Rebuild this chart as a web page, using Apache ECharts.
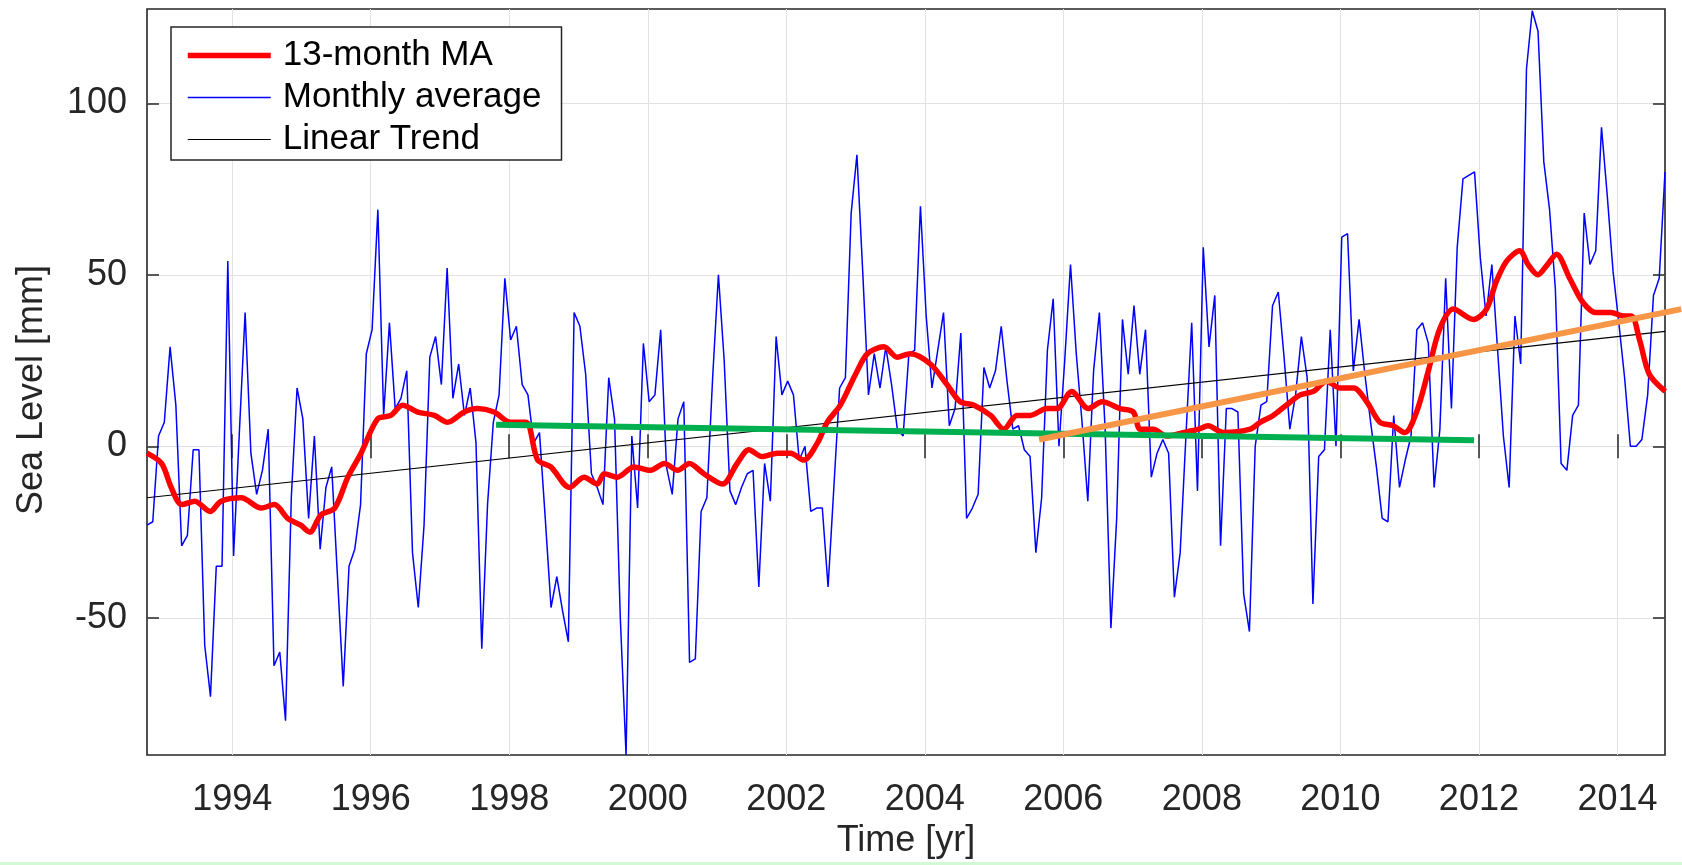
<!DOCTYPE html>
<html>
<head>
<meta charset="utf-8">
<script src="https://cdn.jsdelivr.net/npm/echarts@6/dist/echarts.min.js"></script>
<style>
html,body{margin:0;padding:0;background:#fff;}
#c{width:1682px;height:865px;}
</style>
</head>
<body>
<div id="c"></div>
<script>
// ---- data ----
const startYear = 1992.77;           // first monthly sample (decimal year)
const monthlyValues = [
 -23,-22,3,7,29,12,-29,-26,-1,-1,-58,-73,-35,-35,54,-32,4,39,-2,-14,
 -7,5,-64,-60,-80,-15,17,8,-21,3,-30,-12,-6,-38,-70,-35,-30,-17,27,34,
 69,9,36,11,14,22,-31,-47,-23,26,32,18,52,14,24,9,17,1,-59,-17,
 7,15,49,31,35,18,15,1,4,-21,-47,-38,-48,-57,39,35,21,-8,-12,-17,
 20,8,-50,-90,3,-18,30,13,15,34,-6,-14,8,13,-63,-62,-19,-15,20,50,
 25,-13,-17,-12,-8,-7,-41,-5,-16,32,15,19,15,-4,0,-19,-18,-18,-41,-12,
 17,20,68,85,51,15,27,17,29,18,5,3,27,28,70,38,17,28,39,6,
 11,33,-21,-18,-14,23,17,22,35,19,5,6,-1,-3,-31,-15,28,43,0,25,
 53,27,7,-16,22,39,5,-53,-21,37,21,41,21,34,-9,-2,2,-2,-44,-31,
 3,36,-13,58,29,44,-29,11,11,10,-43,-54,0,12,13,41,45,26,5,15,
 32,20,-46,-3,-1,34,0,61,62,22,37,21,7,-6,-21,-22,9,-12,-4,3,
 34,36,30,-12,5,49,11,58,78,79,80,55,38,53,28,3,-12,38,24,110,
 127,121,83,69,46,-5,-7,9,12,68,53,57,93,73,51,36,20,0,0,2,
 15,44,49,80
];
const maYears = [
 1992.77,1992.98,1993.12,1993.27,1993.46,1993.68,1993.84,1994.13,1994.42,1994.61,
 1994.80,1994.99,1995.12,1995.28,1995.48,1995.67,1995.86,1996.10,1996.29,1996.46,
 1996.68,1996.92,1997.11,1997.35,1997.54,1997.78,1998.02,1998.24,1998.41,1998.60,
 1998.87,1999.08,1999.27,1999.37,1999.56,1999.80,2000.04,2000.24,2000.43,2000.60,
 2000.81,2001.08,2001.29,2001.46,2001.65,2001.87,2002.06,2002.25,2002.45,2002.59,
 2002.78,2003.00,2003.17,2003.41,2003.60,2003.79,2004.08,2004.32,2004.51,2004.71,
 2004.95,2005.14,2005.33,2005.52,2005.76,2005.91,2006.12,2006.36,2006.56,2006.82,
 2007.01,2007.11,2007.30,2007.49,2007.73,2007.95,2008.09,2008.31,2008.70,2008.84,
 2009.03,2009.22,2009.42,2009.61,2009.80,2009.99,2010.19,2010.38,2010.57,2010.76,
 2010.93,2011.10,2011.27,2011.43,2011.63,2011.92,2012.11,2012.25,2012.40,2012.59,
 2012.71,2012.85,2012.99,2013.12,2013.31,2013.50,2013.69,2013.91,2014.08,2014.20,
 2014.32,2014.46,2014.69
];
const maValues = [
 -2,-5,-12,-17,-16,-19,-16,-15,-18,-17,
 -21,-23,-25,-20,-18,-9,-2,8,9,12,
 10,9,7,10,11,10,7,7,-4,-6,
 -12,-9,-11,-8,-9,-6,-7,-5,-7,-5,
 -8,-11,-5,-1,-3,-2,-2,-4,1,7,
 12,21,27,29,26,27,24,18,13,12,
 9,5,9,9,11,11,16,11,13,11,
 10,5,5,3,4,5,6,4,5,7,
 9,12,15,16,19,17,17,13,7,6,
 4,10,22,34,40,37,40,48,54,57,
 53,50,53,56,49,42,39,39,38,38,
 31,21,16
];
const trendYears = [1992.77, 2014.69];
const trendValues = [-15, 33.5];
const greenYears = [1997.81, 2011.93];
const greenValues = [6.3, 1.8];
const orangeYears = [2005.65, 2014.92];
const orangeValues = [2, 40];
const xTicks = [1994,1996,1998,2000,2002,2004,2006,2008,2010,2012,2014];
const yTicks = [-50, 0, 50, 100];
const seriesNames = ['13-month MA', 'Monthly average', 'Linear Trend'];

// ---- build chart ----
const W = 1682, GL = 147, GR = 17;
const xMin = startYear;
const xMax = startYear + (monthlyValues.length - 1) / 12;
// second (invisible) grid reaching the right edge of the picture, same scale
const xMaxWide = xMin + (xMax - xMin) * (W - GL) / (W - GL - GR);
const yMin = -90, yMax = 127.5;
const pairs = (xs, ys) => xs.map((x, i) => [x, ys[i]]);
const monthlyData = monthlyValues.map((v, i) => [startYear + i / 12, v]);

const FONT = 'Liberation Sans, Arial, Helvetica, sans-serif';
const AX = '#262626';
const tickStyle = {color: AX, width: 1.5};

const chart = echarts.init(document.getElementById('c'), null, {renderer: 'canvas'});
chart.setOption({
  animation: false,
  backgroundColor: '#fff',
  grid: [
    {left: GL, right: GR, top: 9, bottom: 110, show: true, borderColor: AX, borderWidth: 1.6, backgroundColor: 'transparent'},
    {left: GL, right: 0, top: 9, bottom: 110, show: false}
  ],
  legend: {
    data: seriesNames, orient: 'vertical', left: 171, top: 27,
    itemWidth: 83, itemHeight: 14, itemGap: 7, selectedMode: false,
    padding: [11, 20, 3, 14],
    borderColor: AX, borderWidth: 1.5, backgroundColor: '#fff',
    itemStyle: {opacity: 0},
    lineStyle: {width: 'inherit'},
    textStyle: {fontSize: 35, fontFamily: FONT, color: '#000', padding: [0, 0, 0, 7]}
  },
  xAxis: [{
    type: 'value', gridIndex: 0, position: 'bottom', min: xMin, max: xMax,
    axisLine: {show: false},
    axisTick: {show: true, inside: true, length: 12, customValues: xTicks, lineStyle: tickStyle},
    axisLabel: {show: true, customValues: xTicks, margin: 27, fontSize: 36, fontFamily: FONT, color: AX, formatter: v => String(Math.round(v))},
    splitLine: {show: true, lineStyle: {color: '#e2e2e2', width: 1}},
    name: 'Time [yr]', nameLocation: 'middle', nameGap: 62,
    nameTextStyle: {fontSize: 36, fontFamily: FONT, color: AX}
  }, {
    type: 'value', gridIndex: 0, position: 'top', min: xMin, max: xMax,
    axisLine: {show: false},
    axisTick: {show: true, inside: true, length: 12, customValues: xTicks, lineStyle: tickStyle},
    axisLabel: {show: false}, splitLine: {show: false}
  }, {
    type: 'value', gridIndex: 1, min: xMin, max: xMaxWide, show: false
  }],
  yAxis: [{
    type: 'value', gridIndex: 0, position: 'left', min: yMin, max: yMax,
    axisLine: {show: false},
    axisTick: {show: true, inside: true, length: 12, customValues: yTicks, lineStyle: tickStyle},
    axisLabel: {show: true, customValues: yTicks, margin: 20, fontSize: 36, fontFamily: FONT, color: AX, formatter: v => String(Math.round(v))},
    splitLine: {show: true, lineStyle: {color: '#e2e2e2', width: 1}},
    name: 'Sea Level [mm]', nameLocation: 'middle', nameGap: 97,
    nameTextStyle: {fontSize: 36, fontFamily: FONT, color: AX, padding: [0, 16, 0, 0]}
  }, {
    type: 'value', gridIndex: 0, position: 'right', min: yMin, max: yMax,
    axisLine: {show: false},
    axisTick: {show: true, inside: true, length: 12, customValues: yTicks, lineStyle: tickStyle},
    axisLabel: {show: false}, splitLine: {show: false}
  }, {
    type: 'value', gridIndex: 1, min: yMin, max: yMax, show: false
  }],
  series: [{
    name: 'Monthly average', type: 'line', data: monthlyData, symbol: 'none',
    lineStyle: {color: '#0000ff', width: 1.5}, itemStyle: {color: '#0000ff'}, z: 2
  }, {
    name: 'Linear Trend', type: 'line', data: pairs(trendYears, trendValues), symbol: 'none',
    lineStyle: {color: '#000000', width: 1.2}, itemStyle: {color: '#000000'}, z: 3
  }, {
    name: '13-month MA', type: 'line', data: pairs(maYears, maValues), symbol: 'none', smooth: 0.3,
    lineStyle: {color: '#ff0000', width: 5.5}, itemStyle: {color: '#ff0000'}, z: 4
  }, {
    name: 'green', type: 'line', data: pairs(greenYears, greenValues), symbol: 'none',
    lineStyle: {color: '#00b050', width: 6, cap: 'butt'}, z: 5
  }, {
    name: 'orange', type: 'line', xAxisIndex: 2, yAxisIndex: 2,
    data: pairs(orangeYears, orangeValues), symbol: 'none', clip: false,
    lineStyle: {color: '#f79646', width: 6, cap: 'butt'}, z: 6
  }],
  graphic: [{
    type: 'rect', left: 0, top: 862, shape: {width: W, height: 3}, style: {fill: '#d4f7d4'}, silent: true
  }]
});
</script>
</body>
</html>
